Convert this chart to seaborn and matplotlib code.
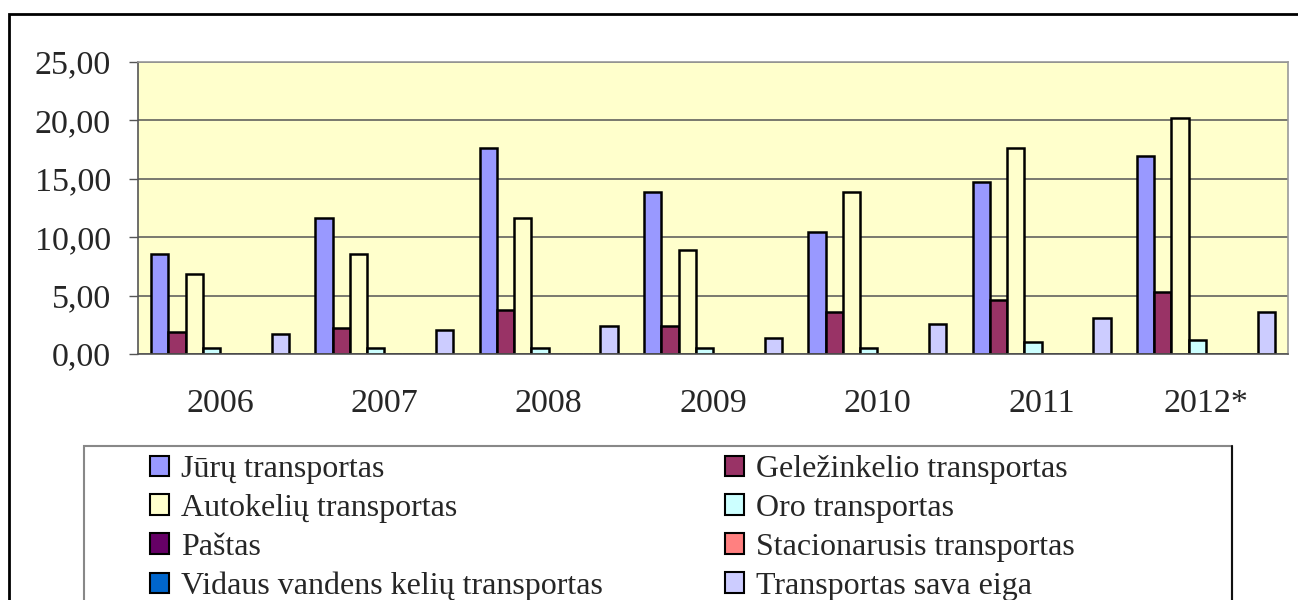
import numpy as np
import pandas as pd
import matplotlib.pyplot as plt
import seaborn as sns
from matplotlib.patches import Patch, Rectangle
from matplotlib.lines import Line2D

# data
years = ['2006', '2007', '2008', '2009', '2010', '2011', '2012*']
series = ['Jūrų transportas', 'Geležinkelio transportas', 'Autokelių transportas',
          'Oro transportas', 'Paštas', 'Stacionarusis transportas',
          'Vidaus vandens kelių transportas', 'Transportas sava eiga']
juru = [8.59, 11.67, 17.66, 13.90, 10.47, 14.75, 16.98]
gelezinkelio = [1.91, 2.20, 3.79, 2.42, 3.62, 4.65, 5.33]
autokeliu = [6.88, 8.59, 11.67, 8.93, 13.90, 17.66, 20.23]
oro = [0.54, 0.54, 0.54, 0.54, 0.54, 1.05, 1.22]
pastas = [0, 0, 0, 0, 0, 0, 0]
stacionarusis = [0, 0, 0, 0, 0, 0, 0]
vidaus = [0, 0, 0, 0, 0, 0, 0]
sava_eiga = [1.74, 2.08, 2.42, 1.40, 2.59, 3.11, 3.62]
colors = ['#9999FF', '#993366', '#FFFFCC', '#CCFFFF',
          '#660066', '#FF8080', '#0066CC', '#CCCCFF']

all_values = [juru, gelezinkelio, autokeliu, oro, pastas, stacionarusis, vidaus, sava_eiga]
rows = []
for name, vals in zip(series, all_values):
    for y, v in zip(years, vals):
        rows.append({'year': y, 'series': name, 'value': v})
df = pd.DataFrame(rows)

sns.set_style('white')
plt.rcParams['font.family'] = ['Liberation Serif', 'DejaVu Serif']
fs = 24.5

fig = plt.figure(figsize=(12.98, 6), dpi=100)
W, H = 1298, 600
ax = fig.add_axes([138 / W, 1 - 354 / H, 1150 / W, 292 / H])

sns.barplot(data=df, x='year', y='value', hue='series', hue_order=series,
            order=years, palette=colors, saturation=1, edgecolor='black',
            linewidth=1.8, width=0.84, errorbar=None, legend=False, ax=ax)

ax.set_facecolor('#FFFFCC')
ax.set_xlim(-0.5, 6.5)
ax.set_ylim(0, 25)
ax.set_yticks(np.arange(0, 26, 5))
ax.set_yticklabels([f'{v:.2f}'.replace('.', ',') for v in np.arange(0, 26, 5)], fontsize=fs)
ax.set_xticks(range(len(years)))
ax.set_xticklabels(years, fontsize=fs)
ax.set_xticks(np.arange(-0.5, 7, 1), minor=True)
ax.set_xlabel('')
ax.set_ylabel('')
ax.set_axisbelow(True)
ax.yaxis.grid(True, color='#555555', linewidth=1.1)
ax.tick_params(axis='x', which='major', length=0, pad=25)
ax.tick_params(axis='x', which='minor', length=7, width=1, color='#555555', direction='out')
ax.tick_params(axis='y', length=6.5, width=1, color='#555555', pad=13, left=True)
for side in ['left', 'bottom']:
    ax.spines[side].set_color('#555555')
    ax.spines[side].set_linewidth(1.2)
for side in ['top', 'right']:
    ax.spines[side].set_visible(True)
    ax.spines[side].set_color('#999999')
    ax.spines[side].set_linewidth(1.2)

# outer chart border
fig.patches.append(Rectangle((9 / W, -0.2), 1.2, 1.2 - 14 / H, transform=fig.transFigure,
                             fill=False, edgecolor='black', linewidth=2))
# legend box (grey top/left, dark right side)
fig.patches.append(Rectangle((84 / W, -0.2), (1232 - 84) / W, 0.2 + 1 - 446 / H,
                             transform=fig.transFigure, fill=False,
                             edgecolor='#888888', linewidth=1.5))
fig.lines.append(Line2D([1232 / W, 1232 / W], [0, 1 - 446 / H], transform=fig.transFigure,
                        color='#111111', linewidth=1.5))

handles = [Patch(facecolor=c, edgecolor='black', linewidth=1.5) for c in colors]
legend_kw = dict(loc='upper left', ncol=1, frameon=False, fontsize=23,
                 handlelength=0.6, handleheight=0.6, handletextpad=0.37,
                 labelspacing=0.31, borderpad=0, borderaxespad=0)
left_idx = [0, 2, 4, 6]
right_idx = [1, 3, 5, 7]
leg1 = fig.legend([handles[i] for i in left_idx], [series[i] for i in left_idx],
                  bbox_to_anchor=(150 / W, 1 - 455 / H), **legend_kw)
leg2 = fig.legend([handles[i] for i in right_idx], [series[i] for i in right_idx],
                  bbox_to_anchor=(725 / W, 1 - 455 / H), **legend_kw)

fig.savefig('out.png', dpi=100)
